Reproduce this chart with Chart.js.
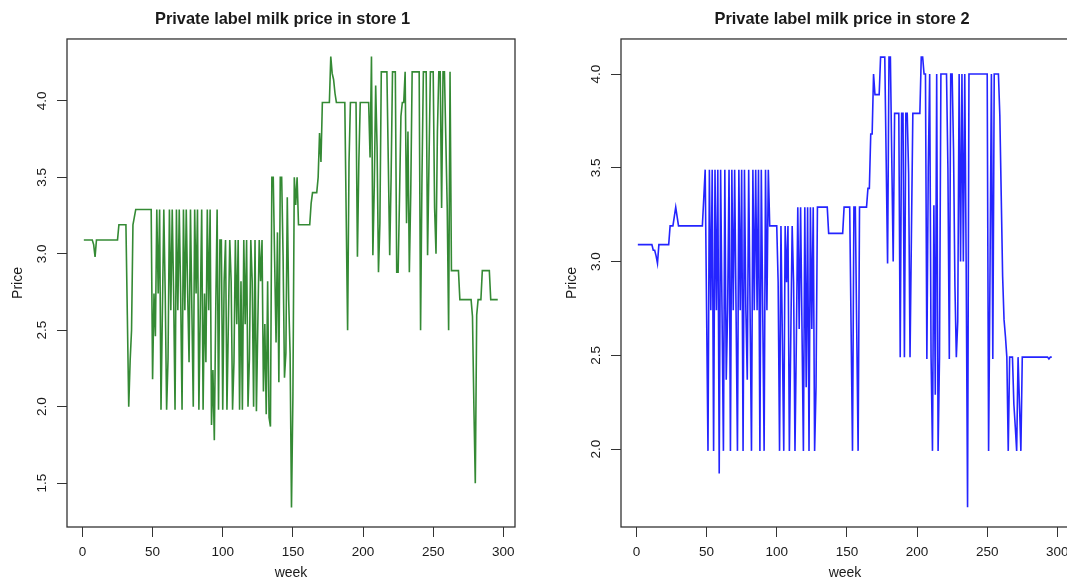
<!DOCTYPE html>
<html>
<head>
<meta charset="utf-8">
<script src="https://cdn.jsdelivr.net/npm/chart.js@4.4.1/dist/chart.umd.min.js"></script>
<style>
  html, body { margin: 0; padding: 0; background: #fff; overflow: hidden; width: 1067px; height: 578px; }
  .panel { position: absolute; top: 0; width: 582px; height: 600px; }
</style>
</head>
<body>
<canvas id="store1" class="panel" width="582" height="600" style="left:0px"></canvas>
<canvas id="store2" class="panel" width="582" height="600" style="left:554px"></canvas>
<script>
// Weekly private-label milk price, store 1 (weeks 1..296)
const store1Price = [
  3.09,3.09,3.09,3.09,3.09,3.09,3.09,3.06,2.98,3.09,   // 1-10
  3.09,3.09,3.09,3.09,3.09,3.09,3.09,3.09,3.09,3.09,   // 11-20
  3.09,3.09,3.09,3.09,3.09,3.19,3.19,3.19,3.19,3.19,   // 21-30
  3.19,2.60,2.00,2.30,2.50,3.19,3.24,3.29,3.29,3.29,   // 31-40
  3.29,3.29,3.29,3.29,3.29,3.29,3.29,3.29,3.29,2.18,   // 41-50
  2.74,2.46,3.29,2.74,3.29,1.98,2.63,3.29,2.74,1.98,   // 51-60
  2.31,3.29,2.63,3.29,2.74,1.98,3.29,2.63,3.29,2.74,   // 61-70
  1.98,3.29,2.63,3.29,2.74,2.29,3.29,2.63,2.00,3.29,   // 71-80
  2.74,3.29,1.98,2.63,3.29,1.98,2.74,2.29,3.29,2.63,   // 81-90
  3.29,1.88,2.24,1.78,2.63,3.29,1.98,3.09,3.09,1.98,   // 91-100
  2.82,3.09,1.98,2.54,3.09,2.82,1.98,2.29,3.09,2.54,   // 101-110
  3.09,1.98,2.82,1.98,3.09,2.54,3.09,2.00,2.31,3.09,   // 111-120
  2.82,2.00,3.09,1.97,2.54,3.09,2.82,3.09,2.10,2.54,   // 121-130
  1.95,2.82,1.93,1.87,3.50,3.50,2.95,2.42,3.14,2.16,   // 131-140
  3.50,3.50,2.99,2.19,2.35,3.37,2.70,2.35,1.34,2.06,   // 141-150
  3.50,3.32,3.50,3.19,3.19,3.19,3.19,3.19,3.19,3.19,   // 151-160
  3.19,3.19,3.33,3.40,3.40,3.40,3.40,3.50,3.79,3.60,   // 161-170
  3.99,3.99,3.99,3.99,3.99,3.99,4.29,4.18,4.14,4.05,   // 171-180
  3.99,3.99,3.99,3.99,3.99,3.99,3.99,3.24,2.50,3.60,   // 181-190
  3.99,3.99,3.99,3.99,3.99,2.98,3.60,3.99,3.99,3.99,   // 191-200
  3.99,3.99,3.99,3.99,3.63,4.29,2.99,3.44,4.10,3.70,   // 201-210
  2.88,3.20,4.19,4.19,4.19,4.19,4.19,3.60,2.99,3.50,   // 211-220
  4.19,4.19,4.19,2.88,2.88,3.37,3.90,3.99,3.99,4.19,   // 221-230
  3.20,3.80,2.88,3.40,4.19,4.19,4.19,4.19,4.19,4.19,   // 231-240
  2.50,3.50,4.19,4.19,4.19,2.99,3.60,4.19,4.19,4.19,   // 241-250
  3.30,3.00,3.80,4.19,4.19,3.30,4.19,4.19,3.75,3.30,   // 251-260
  2.50,4.19,2.89,2.89,2.89,2.89,2.89,2.89,2.70,2.70,   // 261-270
  2.70,2.70,2.70,2.70,2.70,2.70,2.70,2.59,2.00,1.50,   // 271-280
  2.60,2.70,2.70,2.70,2.89,2.89,2.89,2.89,2.89,2.89,   // 281-290
  2.70,2.70,2.70,2.70,2.70,2.70                        // 291-296
];

// Weekly private-label milk price, store 2 (weeks 1..296)
const store2Price = [
  3.09,3.09,3.09,3.09,3.09,3.09,3.09,3.09,3.09,3.09,   // 1-10
  3.09,3.06,3.06,3.03,2.99,3.09,3.09,3.09,3.09,3.09,   // 11-20
  3.09,3.09,3.09,3.19,3.19,3.19,3.24,3.29,3.24,3.19,   // 21-30
  3.19,3.19,3.19,3.19,3.19,3.19,3.19,3.19,3.19,3.19,   // 31-40
  3.19,3.19,3.19,3.19,3.19,3.19,3.19,3.34,3.49,2.74,   // 41-50
  1.99,3.49,2.74,3.49,1.99,3.49,2.74,3.49,1.87,3.49,   // 51-60
  2.74,1.99,3.49,2.37,2.74,3.49,1.99,3.49,2.74,3.49,   // 61-70
  2.74,1.99,3.49,2.74,3.49,1.99,3.49,2.74,2.37,3.49,   // 71-80
  2.74,1.99,3.49,2.74,3.49,2.74,3.49,1.99,3.49,2.74,   // 81-90
  1.99,3.49,2.74,3.49,3.19,3.19,3.19,3.19,3.19,3.19,   // 91-100
  2.89,1.99,3.19,2.59,1.99,3.19,2.89,3.19,1.99,2.59,   // 101-110
  3.19,2.89,1.99,2.59,3.29,2.64,3.29,2.64,1.99,3.29,   // 111-120
  2.33,3.29,1.99,3.29,2.64,3.29,1.99,2.33,3.29,3.29,   // 121-130
  3.29,3.29,3.29,3.29,3.29,3.29,3.15,3.15,3.15,3.15,   // 131-140
  3.15,3.15,3.15,3.15,3.15,3.15,3.15,3.29,3.29,3.29,   // 141-150
  3.29,3.29,2.64,1.99,3.29,3.29,2.64,1.99,3.29,3.29,   // 151-160
  3.29,3.29,3.29,3.29,3.39,3.39,3.68,3.68,4.00,3.89,   // 161-170
  3.89,3.89,3.89,4.09,4.09,4.09,4.09,3.54,2.99,4.09,   // 171-180
  4.09,3.54,3.00,3.79,3.79,3.79,3.79,2.49,3.79,3.79,   // 181-190
  2.49,3.79,3.79,3.47,2.49,3.15,3.79,3.79,3.79,3.79,   // 191-200
  3.79,3.79,4.09,4.09,4.00,4.00,2.48,3.50,4.00,2.49,   // 201-210
  1.99,3.30,2.29,4.00,1.99,2.49,4.00,4.00,4.00,4.00,   // 211-220
  4.00,3.50,2.48,4.00,4.00,3.60,2.87,2.49,2.68,4.00,   // 221-230
  3.00,4.00,3.00,4.00,3.00,1.69,4.00,4.00,4.00,4.00,   // 231-240
  4.00,4.00,4.00,4.00,4.00,4.00,4.00,4.00,4.00,4.00,   // 241-250
  1.99,2.94,4.00,2.48,4.00,4.00,4.00,4.00,3.78,3.35,   // 251-260
  2.92,2.69,2.60,2.49,1.99,2.49,2.49,2.49,2.24,2.12,   // 261-270
  1.99,2.49,2.24,1.99,2.49,2.49,2.49,2.49,2.49,2.49,   // 271-280
  2.49,2.49,2.49,2.49,2.49,2.49,2.49,2.49,2.49,2.49,   // 281-290
  2.49,2.49,2.49,2.48,2.49,2.49                        // 291-296
];

// Week index for each observation
const weeks = store1Price.map((_, i) => i + 1);

// Axis tick values
const xTicks = [0, 50, 100, 150, 200, 250, 300];
const yTicksStore1 = [1.5, 2.0, 2.5, 3.0, 3.5, 4.0];
const yTicksStore2 = [2.0, 2.5, 3.0, 3.5, 4.0];

const FONT = "'Liberation Sans', Arial, Helvetica, sans-serif";
const TEXT = '#1a1a1a';
const AXIS = '#333333';

// Box around the plotting region
const frame = {
  id: 'frame',
  afterDraw(chart) {
    const { ctx, chartArea: a } = chart;
    ctx.save();
    ctx.strokeStyle = AXIS;
    ctx.lineWidth = 1.3;
    ctx.strokeRect(a.left, a.top, a.right - a.left, a.bottom - a.top);
    ctx.restore();
  }
};

// rightPad + rightGutter always add up to 67 so both plot boxes span the same width
function drawPanel(id, title, prices, color, yMin, yMax, yTicks, rightPad) {
  const rightGutter = 67 - rightPad;
  const points = weeks.map((w, i) => ({ x: w, y: prices[i] }));
  return new Chart(document.getElementById(id), {
    type: 'line',
    data: {
      datasets: [{
        data: points,
        borderColor: color,
        borderWidth: 1.6,
        pointRadius: 0,
        tension: 0,
        fill: false
      }]
    },
    options: {
      responsive: false,
      animation: false,
      devicePixelRatio: 1,
      layout: { padding: { left: 0, top: 0, bottom: 0, right: rightPad } },
      plugins: {
        legend: { display: false },
        tooltip: { enabled: false },
        title: {
          display: true,
          text: title,
          color: TEXT,
          font: { family: FONT, size: 16.4, weight: 'bold' },
          padding: { top: 9.2, bottom: 10.1 }
        }
      },
      scales: {
        x: {
          type: 'linear',
          position: 'bottom',
          min: -11,
          max: 308.3,
          afterBuildTicks: s => { s.ticks = xTicks.map(v => ({ value: v })); },
          afterFit: s => { s.height = 73; },
          grid: { display: true, drawOnChartArea: false, drawTicks: true, tickLength: 10, color: AXIS, lineWidth: 1 },
          border: { display: false },
          ticks: { color: TEXT, font: { family: FONT, size: 13.5 }, padding: 7, maxRotation: 0, autoSkip: false },
          title: { display: true, text: 'week', color: TEXT, font: { family: FONT, size: 14 }, padding: { top: 0, bottom: 18 } }
        },
        y: {
          type: 'linear',
          position: 'left',
          min: yMin,
          max: yMax,
          afterBuildTicks: s => { s.ticks = yTicks.map(v => ({ value: v })); },
          afterFit: s => { s.width = 67; },
          grid: { display: true, drawOnChartArea: false, drawTicks: true, tickLength: 10, color: AXIS, lineWidth: 1 },
          border: { display: false },
          ticks: {
            color: TEXT, font: { family: FONT, size: 13.5 },
            minRotation: 90, maxRotation: 90, crossAlign: 'center', padding: 5.5,
            autoSkip: false,
            callback: v => Number(v).toFixed(1)
          },
          title: { display: true, text: 'Price', color: TEXT, font: { family: FONT, size: 14 }, padding: { top: 10, bottom: 0 } }
        },
        yRight: {
          type: 'linear',
          position: 'right',
          min: 0,
          max: 1,
          afterFit: s => { s.width = rightGutter; },
          grid: { display: false },
          border: { display: false },
          ticks: { display: false }
        }
      }
    },
    plugins: [frame]
  });
}

drawPanel('store1', 'Private label milk price in store 1', store1Price, '#348a34', 1.213, 4.405, yTicksStore1, 17);
drawPanel('store2', 'Private label milk price in store 2', store2Price, '#2424ff', 1.584, 4.187, yTicksStore2, 6);
</script>
</body>
</html>
